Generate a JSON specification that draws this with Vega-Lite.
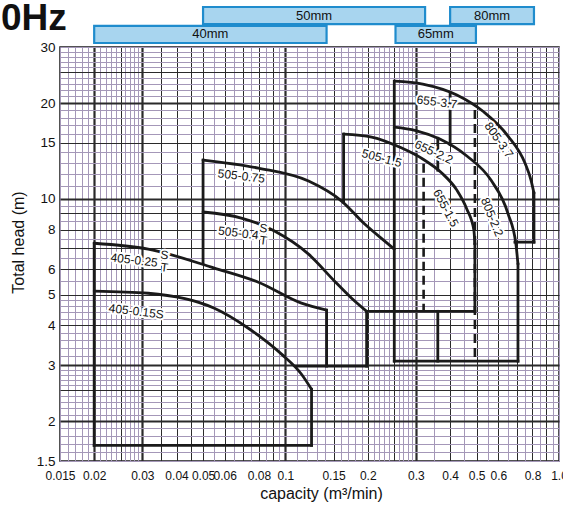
{
  "$schema": "https://vega.github.io/schema/vega-lite/v6.json",
  "background": "white",
  "padding": 0,
  "bounds": "flush",
  "spacing": 4,
  "resolve": {"scale": {"x": "independent", "y": "independent"}},
  "config": {"font": "Liberation Sans", "view": {"stroke": null}},
  "datasets": {
    "curves": [
      {"c": "405-0.15", "q": 0.02, "h": 5.13}, {"c": "405-0.15", "q": 0.0315, "h": 5.05}, {"c": "405-0.15", "q": 0.055, "h": 4.53}, {"c": "405-0.15", "q": 0.0732, "h": 3.92}, {"c": "405-0.15", "q": 0.0968, "h": 3.25}, {"c": "405-0.15", "q": 0.1145, "h": 2.81}, {"c": "405-0.15", "q": 0.1246, "h": 2.52},
      {"c": "405-0.25", "q": 0.02, "h": 7.25}, {"c": "405-0.25", "q": 0.0315, "h": 6.95}, {"c": "405-0.25", "q": 0.055, "h": 6.06}, {"c": "405-0.25", "q": 0.0797, "h": 5.47}, {"c": "405-0.25", "q": 0.1145, "h": 4.7}, {"c": "405-0.25", "q": 0.1414, "h": 4.47},
      {"c": "505-0.4", "q": 0.05, "h": 9.09}, {"c": "505-0.4", "q": 0.069, "h": 8.7}, {"c": "505-0.4", "q": 0.0912, "h": 7.92}, {"c": "505-0.4", "q": 0.1215, "h": 6.7}, {"c": "505-0.4", "q": 0.1513, "h": 5.51}, {"c": "505-0.4", "q": 0.1746, "h": 4.87}, {"c": "505-0.4", "q": 0.1981, "h": 4.43},
      {"c": "505-0.75", "q": 0.05, "h": 13.24}, {"c": "505-0.75", "q": 0.0797, "h": 12.49}, {"c": "505-0.75", "q": 0.1215, "h": 11.37}, {"c": "505-0.75", "q": 0.1605, "h": 9.84}, {"c": "505-0.75", "q": 0.1949, "h": 8.33}, {"c": "505-0.75", "q": 0.2307, "h": 7.36}, {"c": "505-0.75", "q": 0.25, "h": 6.95},
      {"c": "505-1.5", "q": 0.1632, "h": 15.98}, {"c": "505-1.5", "q": 0.2067, "h": 15.64}, {"c": "505-1.5", "q": 0.2663, "h": 14.44}, {"c": "505-1.5", "q": 0.3177, "h": 13.34}, {"c": "505-1.5", "q": 0.3729, "h": 12.05}, {"c": "505-1.5", "q": 0.4233, "h": 10.65}, {"c": "505-1.5", "q": 0.4606, "h": 9.28}, {"c": "505-1.5", "q": 0.4886, "h": 7.97}, {"c": "505-1.5", "q": 0.4927, "h": 7.2},
      {"c": "805-2.2", "q": 0.25, "h": 16.81}, {"c": "805-2.2", "q": 0.2996, "h": 16.39}, {"c": "805-2.2", "q": 0.3668, "h": 15.41}, {"c": "805-2.2", "q": 0.4606, "h": 13.63}, {"c": "805-2.2", "q": 0.564, "h": 11.45}, {"c": "805-2.2", "q": 0.651, "h": 8.99}, {"c": "805-2.2", "q": 0.696, "h": 7.2}, {"c": "805-2.2", "q": 0.708, "h": 6.23},
      {"c": "805-3.7", "q": 0.25, "h": 23.45}, {"c": "805-3.7", "q": 0.3177, "h": 22.95}, {"c": "805-3.7", "q": 0.4233, "h": 21.2}, {"c": "805-3.7", "q": 0.5316, "h": 18.74}, {"c": "805-3.7", "q": 0.651, "h": 15.75}, {"c": "805-3.7", "q": 0.751, "h": 12.95}, {"c": "805-3.7", "q": 0.79, "h": 11.45}, {"c": "805-3.7", "q": 0.81, "h": 10.42}
    ],
    "segs": [
      {"q": 0.02, "q2": 0.02, "h": 7.25, "h2": 1.68},
      {"q": 0.02, "q2": 0.1246, "h": 1.68, "h2": 1.68},
      {"q": 0.1246, "q2": 0.1246, "h": 1.68, "h2": 2.52},
      {"q": 0.1414, "q2": 0.1414, "h": 4.47, "h2": 2.98},
      {"q": 0.1098, "q2": 0.1981, "h": 2.98, "h2": 2.98},
      {"q": 0.05, "q2": 0.05, "h": 13.24, "h2": 6.25},
      {"q": 0.1981, "q2": 0.1981, "h": 4.43, "h2": 2.98},
      {"q": 0.1981, "q2": 0.4927, "h": 4.43, "h2": 4.43},
      {"q": 0.25, "q2": 0.25, "h": 23.45, "h2": 3.09},
      {"q": 0.1632, "q2": 0.1632, "h": 15.98, "h2": 9.75},
      {"q": 0.4927, "q2": 0.4927, "h": 7.2, "h2": 4.43},
      {"q": 0.708, "q2": 0.708, "h": 6.23, "h2": 3.09},
      {"q": 0.25, "q2": 0.708, "h": 3.09, "h2": 3.09},
      {"q": 0.81, "q2": 0.81, "h": 10.42, "h2": 7.31},
      {"q": 0.69, "q2": 0.81, "h": 7.31, "h2": 7.31},
      {"q": 0.4, "q2": 0.4, "h": 21.5, "h2": 14.8},
      {"q": 0.3606, "q2": 0.3606, "h": 15.5, "h2": 12.3},
      {"q": 0.3606, "q2": 0.3606, "h": 4.43, "h2": 3.09}
    ],
    "dashed": [
      {"q": 0.32, "q2": 0.32, "h": 12.9, "h2": 4.43},
      {"q": 0.4927, "q2": 0.4927, "h": 19.0, "h2": 3.09}
    ],
    "labels": [
      {"g": "a", "t": "405-0.15S", "q": 0.0285, "h": 4.43},
      {"g": "a", "t": "405-0.25", "q": 0.028, "h": 6.42},
      {"g": "a", "t": "S", "q": 0.0361, "h": 6.66},
      {"g": "a", "t": "T", "q": 0.0361, "h": 6.08},
      {"g": "a", "t": "505-0.4", "q": 0.0673, "h": 7.81},
      {"g": "a", "t": "S", "q": 0.0831, "h": 8.08},
      {"g": "a", "t": "T", "q": 0.0831, "h": 7.4},
      {"g": "a", "t": "505-0.75", "q": 0.069, "h": 11.79},
      {"g": "a", "t": "655-3.7", "q": 0.3576, "h": 20.15},
      {"g": "b", "t": "505-1.5", "q": 0.2249, "h": 13.43},
      {"g": "c", "t": "655-2.2", "q": 0.3487, "h": 14.03},
      {"g": "d", "t": "805-3.7", "q": 0.603, "h": 15.3},
      {"g": "e", "t": "655-1.5", "q": 0.3858, "h": 9.35},
      {"g": "f", "t": "805-2.2", "q": 0.569, "h": 8.76}
    ],
    "pipes": [
      {"pipe": "50mm", "q1": 0.05, "q2": 0.324, "row": "a"},
      {"pipe": "80mm", "q1": 0.4, "q2": 0.81, "row": "a"},
      {"pipe": "40mm", "q1": 0.02, "q2": 0.1414, "row": "b"},
      {"pipe": "65mm", "q1": 0.2526, "q2": 0.497, "row": "b"}
    ]
  },
  "vconcat": [
    {
      "width": 499,
      "height": 36,
      "data": {"name": "pipes"},
      "layer": [
        {
          "mark": {"type": "bar", "fill": "#a8d5ef", "stroke": "#1f8ccd", "strokeWidth": 2.2},
          "encoding": {
            "x": {"field": "q1", "type": "quantitative", "scale": {"type": "log", "domain": [0.015, 1], "nice": false}, "axis": null},
            "x2": {"field": "q2"},
            "y": {"field": "row", "type": "nominal", "scale": {"domain": ["a", "b"], "paddingInner": 0.1, "paddingOuter": 0}, "axis": null}
          }
        },
        {
          "transform": [{"calculate": "sqrt(datum.q1*datum.q2)", "as": "qm"}],
          "mark": {"type": "text", "fontSize": 13, "color": "#111"},
          "encoding": {
            "x": {"field": "qm", "type": "quantitative"},
            "y": {"field": "row", "type": "nominal"},
            "text": {"field": "pipe"}
          }
        },
        {
          "data": {"values": [{"t": "0Hz"}]},
          "mark": {"type": "text", "fontSize": 37, "fontWeight": "bold", "align": "left", "baseline": "alphabetic", "dy": 14.7, "color": "#111"},
          "encoding": {
            "x": {"datum": 0.00912},
            "y": {"datum": "a"},
            "text": {"field": "t"}
          }
        }
      ]
    },
    {
      "width": 499,
      "height": 414,
      "view": {"stroke": "#1a1a1a", "strokeWidth": 1.5},
      "layer": [
        {
          "data": {"name": "curves"},
          "mark": {"type": "line", "interpolate": "monotone", "stroke": "#1a1a1a", "strokeWidth": 2.8, "strokeCap": "round"},
          "encoding": {
            "x": {
              "field": "q", "type": "quantitative",
              "scale": {"type": "log", "domain": [0.015, 1], "nice": false},
              "axis": {
                "title": "capacity (m³/min)",
                "values": [0.015,0.016,0.017,0.018,0.019,0.02,0.021,0.022,0.023,0.024,0.025,0.026,0.027,0.028,0.029,0.03,0.035,0.04,0.045,0.05,0.055,0.06,0.065,0.07,0.075,0.08,0.085,0.09,0.095,0.1,0.11,0.12,0.13,0.14,0.15,0.16,0.17,0.18,0.19,0.2,0.21,0.22,0.23,0.24,0.25,0.26,0.27,0.28,0.29,0.3,0.35,0.4,0.45,0.5,0.55,0.6,0.65,0.7,0.75,0.8,0.85,0.9,0.95,1],
                "labelExpr": "indexof([0.015,0.02,0.03,0.04,0.05,0.06,0.08,0.1,0.15,0.2,0.3,0.4,0.5,0.6,0.8,1], datum.value) < 0 ? '' : (datum.value == 1 ? '1.0' : '' + datum.value)",
                "labelOverlap": false,
                "labelFlush": false,
                "labelBound": false,
                "ticks": false,
                "domain": false,
                "labelFontSize": 12,
                "labelColor": "#111",
                "labelPadding": 9,
                "titleFontSize": 16,
                "titleFontWeight": "normal",
                "titleColor": "#111",
                "titlePadding": 4,
                "titleX": 261,
                "grid": true,
                "gridOpacity": 1,
                "gridColor": {"condition": {"test": "indexof([0.02,0.03,0.1,0.3,0.025,0.035,0.04,0.045,0.05,0.06,0.07,0.08,0.09,0.15,0.2,0.25,0.4,0.5,0.6,0.7,0.8,0.9], datum.value) >= 0", "value": "#2a2a2a"}, "value": "#a497b8"},
                "gridWidth": {"condition": {"test": "indexof([0.02,0.03,0.1,0.3], datum.value) >= 0", "value": 2.2}, "value": 1}
              }
            },
            "y": {
              "field": "h", "type": "quantitative",
              "scale": {"type": "log", "domain": [1.5, 30], "nice": false},
              "axis": {
                "title": "Total head (m)",
                "values": [1.5,1.6,1.7,1.8,1.9,2,2.1,2.2,2.3,2.4,2.5,2.6,2.7,2.8,2.9,3,3.2,3.4,3.6,3.8,4,4.2,4.4,4.6,4.8,5,5.5,6,6.5,7,7.5,8,8.5,9,9.5,10,11,12,13,14,15,16,17,18,19,20,21,22,23,24,25,26,27,28,29,30],
                "labelExpr": "indexof([1.5,2,3,4,5,6,8,10,15,20,30], datum.value) < 0 ? '' : '' + datum.value",
                "labelOverlap": false,
                "labelFlush": false,
                "labelBound": false,
                "ticks": false,
                "domain": false,
                "labelFontSize": 13.5,
                "labelColor": "#111",
                "labelPadding": 5,
                "titleFontSize": 16,
                "titleFontWeight": "normal",
                "titleColor": "#111",
                "titlePadding": 10,
                "titleY": 195,
                "grid": true,
                "gridOpacity": 1,
                "gridColor": {"condition": {"test": "indexof([2,3,10,20,2.5,4,5,6,7,8,9,15,25], datum.value) >= 0", "value": "#2a2a2a"}, "value": "#a497b8"},
                "gridWidth": {"condition": {"test": "indexof([2,3,10,20], datum.value) >= 0", "value": 2.2}, "value": 1}
              }
            },
            "detail": {"field": "c"}
          }
        },
        {
          "data": {"name": "segs"},
          "mark": {"type": "rule", "stroke": "#1a1a1a", "strokeWidth": 2.8, "strokeCap": "square"},
          "encoding": {
            "x": {"field": "q", "type": "quantitative"},
            "x2": {"field": "q2"},
            "y": {"field": "h", "type": "quantitative"},
            "y2": {"field": "h2"}
          }
        },
        {
          "data": {"name": "dashed"},
          "mark": {"type": "rule", "stroke": "#1a1a1a", "strokeWidth": 2.6, "strokeDash": [9, 5]},
          "encoding": {
            "x": {"field": "q", "type": "quantitative"},
            "x2": {"field": "q2"},
            "y": {"field": "h", "type": "quantitative"},
            "y2": {"field": "h2"}
          }
        },
        {"data": {"name": "labels"}, "transform": [{"filter": "datum.g == 'a'"}], "mark": {"type": "text", "fontSize": 12, "angle": 7, "color": "white", "stroke": "white", "strokeWidth": 4}, "encoding": {"x": {"field": "q", "type": "quantitative"}, "y": {"field": "h", "type": "quantitative"}, "text": {"field": "t"}}},
        {"data": {"name": "labels"}, "transform": [{"filter": "datum.g == 'a'"}], "mark": {"type": "text", "fontSize": 12, "angle": 7, "color": "#111"}, "encoding": {"x": {"field": "q", "type": "quantitative"}, "y": {"field": "h", "type": "quantitative"}, "text": {"field": "t"}}},
        {"data": {"name": "labels"}, "transform": [{"filter": "datum.g == 'b'"}], "mark": {"type": "text", "fontSize": 12, "angle": 15, "color": "white", "stroke": "white", "strokeWidth": 4}, "encoding": {"x": {"field": "q", "type": "quantitative"}, "y": {"field": "h", "type": "quantitative"}, "text": {"field": "t"}}},
        {"data": {"name": "labels"}, "transform": [{"filter": "datum.g == 'b'"}], "mark": {"type": "text", "fontSize": 12, "angle": 15, "color": "#111"}, "encoding": {"x": {"field": "q", "type": "quantitative"}, "y": {"field": "h", "type": "quantitative"}, "text": {"field": "t"}}},
        {"data": {"name": "labels"}, "transform": [{"filter": "datum.g == 'c'"}], "mark": {"type": "text", "fontSize": 12, "angle": 25, "color": "white", "stroke": "white", "strokeWidth": 4}, "encoding": {"x": {"field": "q", "type": "quantitative"}, "y": {"field": "h", "type": "quantitative"}, "text": {"field": "t"}}},
        {"data": {"name": "labels"}, "transform": [{"filter": "datum.g == 'c'"}], "mark": {"type": "text", "fontSize": 12, "angle": 25, "color": "#111"}, "encoding": {"x": {"field": "q", "type": "quantitative"}, "y": {"field": "h", "type": "quantitative"}, "text": {"field": "t"}}},
        {"data": {"name": "labels"}, "transform": [{"filter": "datum.g == 'd'"}], "mark": {"type": "text", "fontSize": 12, "angle": 55, "color": "white", "stroke": "white", "strokeWidth": 4}, "encoding": {"x": {"field": "q", "type": "quantitative"}, "y": {"field": "h", "type": "quantitative"}, "text": {"field": "t"}}},
        {"data": {"name": "labels"}, "transform": [{"filter": "datum.g == 'd'"}], "mark": {"type": "text", "fontSize": 12, "angle": 55, "color": "#111"}, "encoding": {"x": {"field": "q", "type": "quantitative"}, "y": {"field": "h", "type": "quantitative"}, "text": {"field": "t"}}},
        {"data": {"name": "labels"}, "transform": [{"filter": "datum.g == 'e'"}], "mark": {"type": "text", "fontSize": 12, "angle": 62, "color": "white", "stroke": "white", "strokeWidth": 4}, "encoding": {"x": {"field": "q", "type": "quantitative"}, "y": {"field": "h", "type": "quantitative"}, "text": {"field": "t"}}},
        {"data": {"name": "labels"}, "transform": [{"filter": "datum.g == 'e'"}], "mark": {"type": "text", "fontSize": 12, "angle": 62, "color": "#111"}, "encoding": {"x": {"field": "q", "type": "quantitative"}, "y": {"field": "h", "type": "quantitative"}, "text": {"field": "t"}}},
        {"data": {"name": "labels"}, "transform": [{"filter": "datum.g == 'f'"}], "mark": {"type": "text", "fontSize": 12, "angle": 68, "color": "white", "stroke": "white", "strokeWidth": 4}, "encoding": {"x": {"field": "q", "type": "quantitative"}, "y": {"field": "h", "type": "quantitative"}, "text": {"field": "t"}}},
        {"data": {"name": "labels"}, "transform": [{"filter": "datum.g == 'f'"}], "mark": {"type": "text", "fontSize": 12, "angle": 68, "color": "#111"}, "encoding": {"x": {"field": "q", "type": "quantitative"}, "y": {"field": "h", "type": "quantitative"}, "text": {"field": "t"}}}
      ]
    }
  ]
}
